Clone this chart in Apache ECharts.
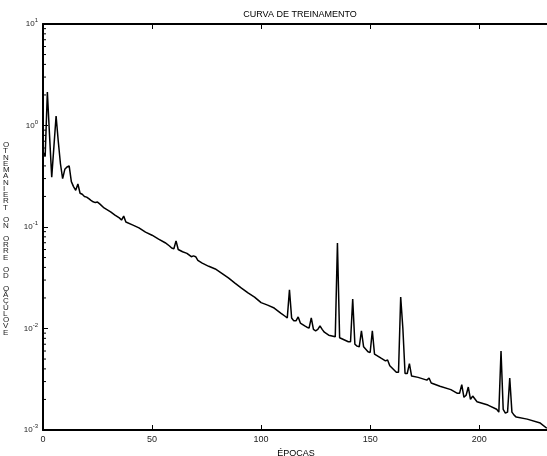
<!DOCTYPE html>
<html><head><meta charset="utf-8">
<script src="https://cdn.jsdelivr.net/npm/echarts@6/dist/echarts.min.js"></script>
<style>html,body{margin:0;padding:0;background:#fff}#c{width:547px;height:456px}</style>
</head><body><div id="c"></div>
<script>
var titleText = 'CURVA DE TREINAMENTO';
var xName = 'ÉPOCAS';
var yName = 'OTNEMANIERT ON ORRE OD OÃÇULOVE';
var xTicks = [0, 50, 100, 150, 200];
var yTicks = [0.001, 0.01, 0.1, 1, 10];

var epochs = [0,1,2,3,4,5,6,7,8,9,10,11,12,13,14,15,16,17,18,19,20,21,22,23,24,25,26,28,31,33,35,36,37,38,41,44,47,50,53,56,58,59,60,61,62,64,66,68,69,70,71,73,76,79,82,85,88,91,94,97,100,103,106,109,111,112,113,114,115,116,117,118,120,121,122,123,124,125,126,127,128,129,131,133,134,135,136,140,141,142,143,144,145,146,147,149,150,151,152,155,157,158,159,162,163,164,165,166,167,168,169,172,176,177,178,182,187,190,191,192,193,194,195,196,197,199,204,208,209,210,211,212,213,214,215,216,217,222,228,231];
var errors = [0.55,0.5,2.14,0.8,0.31,0.62,1.24,0.7,0.42,0.30,0.37,0.39,0.40,0.28,0.25,0.23,0.265,0.215,0.21,0.20,0.197,0.19,0.183,0.177,0.174,0.176,0.169,0.154,0.141,0.131,0.123,0.117,0.128,0.112,0.105,0.098,0.089,0.083,0.076,0.070,0.065,0.062,0.061,0.073,0.060,0.057,0.055,0.051,0.052,0.051,0.047,0.044,0.041,0.0386,0.035,0.0315,0.028,0.025,0.0224,0.0204,0.018,0.017,0.0159,0.0142,0.0132,0.0127,0.024,0.0127,0.0119,0.0119,0.013,0.0113,0.0106,0.0103,0.0101,0.0127,0.0098,0.0095,0.0098,0.0106,0.0098,0.0092,0.0086,0.0084,0.0083,0.0695,0.0081,0.0074,0.0074,0.0195,0.0070,0.0067,0.0066,0.0095,0.0066,0.0059,0.0058,0.0095,0.0056,0.0051,0.0048,0.0049,0.0043,0.0037,0.0037,0.0204,0.010,0.0036,0.0036,0.0045,0.0034,0.0033,0.0031,0.00325,0.0029,0.0027,0.0025,0.0023,0.0023,0.0028,0.0021,0.0022,0.00265,0.0020,0.00216,0.0019,0.00176,0.0016,0.0015,0.006,0.0016,0.00147,0.0015,0.00325,0.0015,0.0014,0.00134,0.00128,0.00117,0.00104];

var chart = echarts.init(document.getElementById('c'), null, {renderer: 'canvas'});
var font = 'Liberation Sans, Arial, sans-serif';
var supLabel = function (v) {
  var e = Math.round(Math.log(v) / Math.LN10);
  return '{b|10}{s|' + e + '}';
};
var data = epochs.map(function (e, i) { return [e, errors[i]]; });
var xAxisBase = {
  type: 'value', min: 0, max: 232, interval: 50,
  axisLine: {show: true, onZero: false, lineStyle: {color: '#000', width: 2}},
  axisTick: {show: true, inside: true, length: 5, lineStyle: {color: '#000', width: 1}},
  splitLine: {show: false}
};
var option = {
  animation: false,
  backgroundColor: '#fff',
  title: {text: titleText, left: 295, top: 5, textAlign: 'center',
    textStyle: {fontFamily: font, fontSize: 9, fontWeight: 'normal', color: '#000'}},
  grid: {left: 43, right: -2, top: 24, bottom: 26, containLabel: false, outerBoundsMode: 'none'},
  xAxis: [
    Object.assign({}, xAxisBase, {position: 'bottom',
      name: xName, nameLocation: 'middle', nameGap: 16,
      nameTextStyle: {fontFamily: font, fontSize: 9, color: '#000'},
      axisLabel: {show: true, margin: 5, fontFamily: font, fontSize: 9, color: '#222',
        customValues: xTicks}}),
    Object.assign({}, xAxisBase, {position: 'top', axisLabel: {show: false}})
  ],
  yAxis: [{
    type: 'log', logBase: 10, min: 0.001, max: 10,
    axisLine: {show: true, onZero: false, lineStyle: {color: '#000', width: 2}},
    axisTick: {show: true, inside: true, length: 5, lineStyle: {color: '#000', width: 1}},
    splitLine: {show: false},
    axisLabel: {show: true, margin: 5, formatter: supLabel,
      rich: {
        b: {fontFamily: font, fontSize: 8, color: '#222'},
        s: {fontFamily: font, fontSize: 6, color: '#222', padding: [0, 0, 7, 0]}
      }}
  }],
  graphic: [{
    type: 'text', left: 3, top: 141,
    style: {text: yName.split('').join('\n'), font: '8px ' + font, lineHeight: 6.25,
      fill: '#222', align: 'center'}
  }],
  series: [{
    type: 'line', data: data, showSymbol: false, symbol: 'none',
    lineStyle: {color: '#000', width: 1.5}, clip: true
  }]
};
chart.setOption(option);

// log minor ticks (2..9 within each decade) placed through the axis scale
var minor = [];
for (var d = 0; d < yTicks.length - 1; d++) {
  for (var m = 2; m <= 9; m++) {
    var v = yTicks[d] * m;
    var py = chart.convertToPixel({yAxisIndex: 0}, v);
    var px = chart.convertToPixel({xAxisIndex: 0}, 0);
    minor.push({type: 'line', shape: {x1: px, y1: py, x2: px + 3, y2: py},
      style: {stroke: '#000', lineWidth: 1}, silent: true});
  }
}
chart.setOption({graphic: option.graphic.concat(minor)});
</script></body></html>
